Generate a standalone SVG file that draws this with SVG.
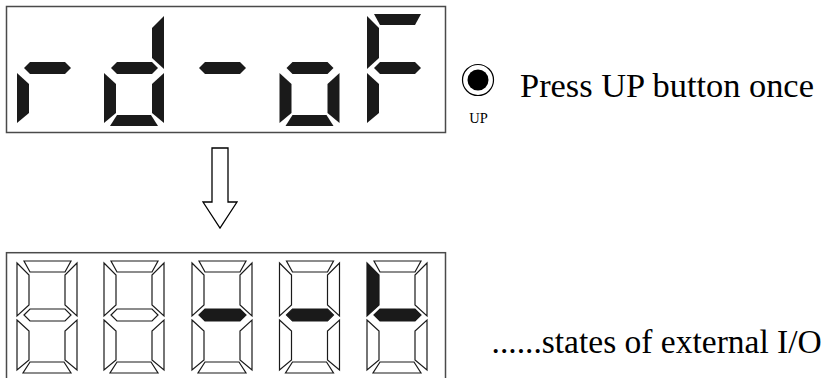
<svg xmlns="http://www.w3.org/2000/svg" xmlns:xlink="http://www.w3.org/1999/xlink" width="824" height="378" viewBox="0 0 824 378">
<style>
.frame{fill:#fff;stroke:#4a4a4a;stroke-width:1.5}
.lit{fill:#1a1a1a;stroke:none}
.off{fill:#fff;stroke:#1a1a1a;stroke-width:1.2;stroke-linejoin:miter}
.litb{fill:#1a1a1a;stroke:#1a1a1a;stroke-width:1.2}
.serif{font-family:"Liberation Serif","Times New Roman",serif;fill:#000}
.arrow{fill:#fff;stroke:#000;stroke-width:1.3}
</style>
<defs>
<polygon id="sa" points="7,0 54,0 48,11 13,11"/>
<polygon id="sf" points="0,2 12,14 12,44 0,55"/>
<polygon id="sb" points="60,2 60,55 48,44 48,14"/>
<polygon id="sg" points="7,54 13,48 48,48 54,54 48,60 13,60"/>
<polygon id="se" points="0,59 12,70 12,99 0,109"/>
<polygon id="sc" points="60,59 60,109 48,99 48,70"/>
<polygon id="sd" points="6,112 54,112 47,101 13,101"/>
</defs>
<rect width="824" height="378" fill="#fff"/>

<g id="display-top">
<rect class="frame" x="6.5" y="6.5" width="439" height="126"/>
<g id="top-digit-1" transform="translate(17,14)"><use href="#sg" class="lit"/><use href="#se" class="lit"/></g>
<g id="top-digit-2" transform="translate(104,14)"><use href="#sb" class="lit"/><use href="#sg" class="lit"/><use href="#se" class="lit"/><use href="#sc" class="lit"/><use href="#sd" class="lit"/></g>
<g id="top-digit-3" transform="translate(192,14)"><use href="#sg" class="lit"/></g>
<g id="top-digit-4" transform="translate(279.5,14)"><use href="#sg" class="lit"/><use href="#se" class="lit"/><use href="#sc" class="lit"/><use href="#sd" class="lit"/></g>
<g id="top-digit-5" transform="translate(367,14)"><use href="#sa" class="lit"/><use href="#sf" class="lit"/><use href="#sg" class="lit"/><use href="#se" class="lit"/></g>
</g>

<g id="up-button">
<circle cx="478" cy="80" r="15.5" fill="#fff" stroke="#000" stroke-width="1.2"/>
<circle cx="478" cy="80" r="10.5" fill="#000"/>
<text class="serif" x="478.5" y="123" font-size="14.5" text-anchor="middle">UP</text>
</g>
<g id="label-press">
<text class="serif" x="520" y="97" font-size="34.4">Press UP button once</text>
</g>

<g id="connectors">
<polygon class="arrow" points="212,148 228,148 228,202 237,202 220,228 203,202 212,202"/>
</g>

<g id="display-bottom">
<rect class="frame" x="6.5" y="252.7" width="439" height="140"/>
<g id="bot-digit-1" transform="translate(17,261)"><use href="#sa" class="off"/><use href="#sf" class="off"/><use href="#sb" class="off"/><use href="#sg" class="off"/><use href="#se" class="off"/><use href="#sc" class="off"/><use href="#sd" class="off"/></g>
<g id="bot-digit-2" transform="translate(104,261)"><use href="#sa" class="off"/><use href="#sf" class="off"/><use href="#sb" class="off"/><use href="#sg" class="off"/><use href="#se" class="off"/><use href="#sc" class="off"/><use href="#sd" class="off"/></g>
<g id="bot-digit-3" transform="translate(192,261)"><use href="#sa" class="off"/><use href="#sf" class="off"/><use href="#sb" class="off"/><use href="#sg" class="litb"/><use href="#se" class="off"/><use href="#sc" class="off"/><use href="#sd" class="off"/></g>
<g id="bot-digit-4" transform="translate(279.5,261)"><use href="#sa" class="off"/><use href="#sf" class="off"/><use href="#sb" class="off"/><use href="#sg" class="litb"/><use href="#se" class="off"/><use href="#sc" class="off"/><use href="#sd" class="off"/></g>
<g id="bot-digit-5" transform="translate(367,261)"><use href="#sa" class="off"/><use href="#sf" class="litb"/><use href="#sb" class="off"/><use href="#sg" class="litb"/><use href="#se" class="off"/><use href="#sc" class="off"/><use href="#sd" class="off"/></g>
</g>
<g id="label-states">
<text class="serif" x="491.5" y="353" font-size="33.5">......states of external I/O</text>
</g>
</svg>
